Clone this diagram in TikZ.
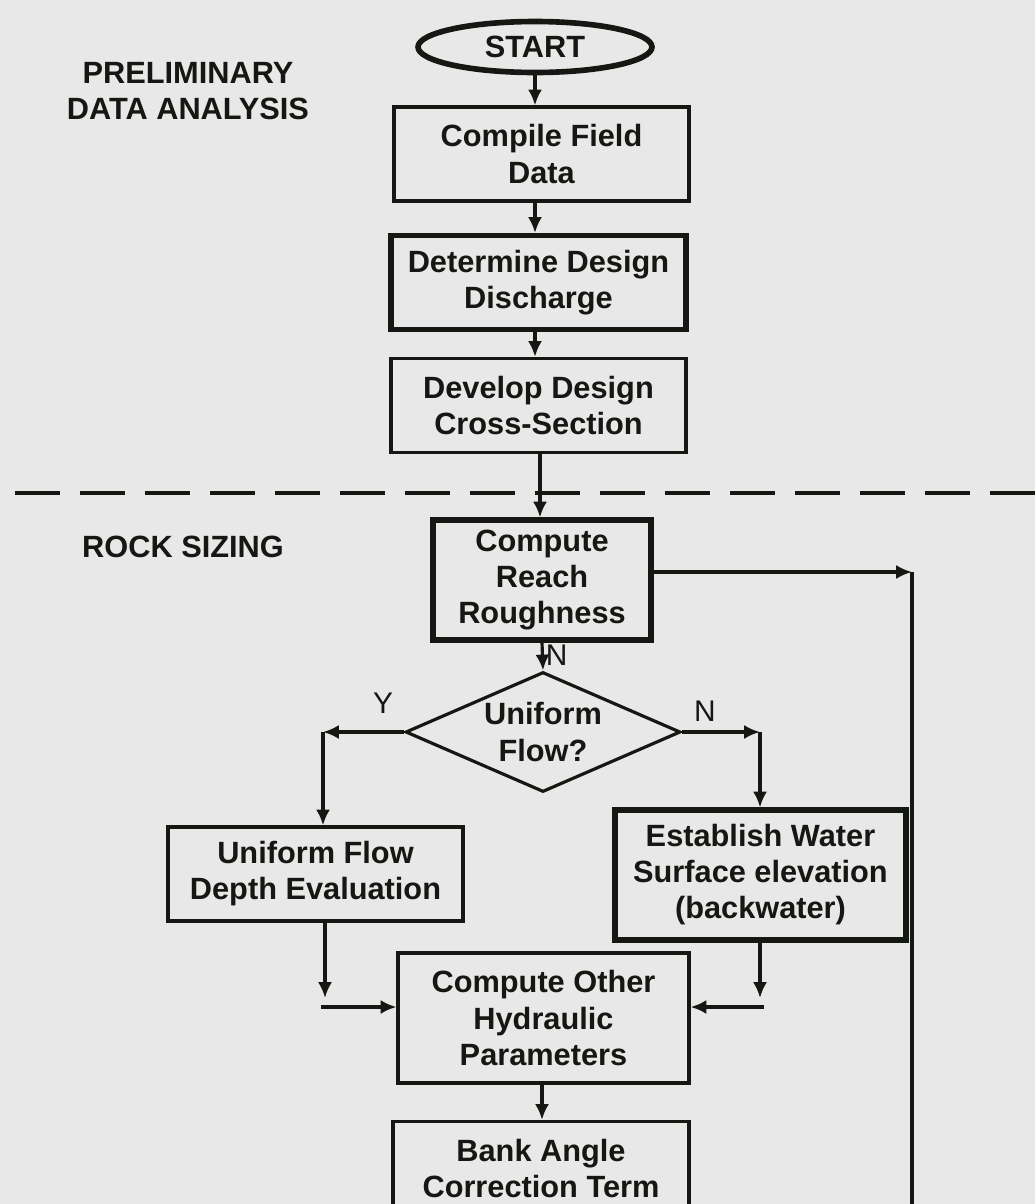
\documentclass[tikz,border=0pt]{standalone}
\usepackage{fontspec}
\setmainfont{Liberation Sans}
\usepackage{xcolor}
\usepackage{tikz}
\usetikzlibrary{arrows.meta,positioning,shapes.geometric,calc}

\definecolor{paper}{rgb}{0.91,0.91,0.91}
\definecolor{ink}{rgb}{0.08,0.09,0.07}

\begin{document}
\begin{tikzpicture}[
  x=0.02cm, y=-0.02cm,
  box/.style={rectangle, draw=ink, line width=1.8pt, minimum width=5.9cm, minimum height=1.88cm, inner sep=2pt, font=\fontsize{17.5}{20.5}\selectfont\bfseries, text=ink, align=center},
  heavy/.style={line width=2.9pt},
  arrow/.style={-{Latex[length=9pt,width=8pt]}, line width=1.8pt, draw=ink},
  tag/.style={font=\fontsize{17.5}{20.5}\selectfont\bfseries, text=ink, align=center},
  yn/.style={font=\fontsize{17}{20}\selectfont, text=ink, inner sep=1pt}
]

% Frame and paper
\useasboundingbox (0,0) rectangle (1035,1204);
\clip (0,0) rectangle (1035,1204);
\fill[paper] (0,0) rectangle (1035,1204);

% Section titles
\node[tag] (prelim) at (188,91) {PRELIMINARY\\DATA ANALYSIS};
\node[tag] (rocks) at (183,547) {ROCK SIZING};

% Section divider
\coordinate (divl) at (15,493);
\coordinate (divr) at (1040,493);
\draw[ink, line width=2.3pt, dash pattern=on 0.9cm off 0.4cm] (divl) -- (divr);

% Preliminary data analysis
\node[ellipse, draw=ink, line width=3.2pt, minimum width=4.68cm, minimum height=1.02cm, inner sep=0pt, tag] (start) at (535,47) {START};
\node[box] (compile) at (541.5,154) {Compile Field\\Data};
\node[box, heavy] (design) at (538.5,282.5) {Determine Design\\Discharge};
\node[box] (section) at (538.5,405.5) {Develop Design\\Cross-Section};

% Rock sizing
\node[box, heavy, minimum width=4.36cm, minimum height=2.4cm] (reach) at (542,580) {Compute\\Reach\\Roughness};
\node[diamond, draw=ink, line width=1.8pt, aspect=2.3, inner sep=0pt, minimum width=5.5cm, minimum height=2.4cm, tag] (uniq) at (543,732) {Uniform\\Flow?};
\node[box] (depth) at (315.5,874) {Uniform Flow\\Depth Evaluation};
\node[box, heavy, minimum width=5.82cm, minimum height=2.6cm] (water) at (760.5,875) {Establish Water\\Surface elevation\\(backwater)};
\node[box, minimum width=5.82cm, minimum height=2.6cm] (hydro) at (543.5,1018) {Compute Other\\Hydraulic\\Parameters};
\node[box, minimum width=5.92cm] (bank) at (541,1168.5) {Bank Angle\\Correction Term};

% Corner points
\coordinate (yes) at (323,732);
\coordinate (no) at (760,732);
\coordinate (joinl) at (325,1007);
\coordinate (joinr) at (760,1007);
\coordinate (loop) at (912,572);
\coordinate (loopend) at (912,1240);

% Arrows
\draw[arrow] (start.south) -- (start.south |- compile.north);
\draw[arrow] (start.south |- compile.south) -- (start.south |- design.north);
\draw[arrow] (start.south |- design.south) -- (start.south |- section.north);
\draw[arrow] (540,0 |- section.south) -- (540,0 |- reach.north);
\draw[arrow] (reach.south) -- node[yn, right, pos=0.45] (nlab) {N} (uniq.north);
\draw[arrow] (uniq.west) -- (yes);
\node[yn, above] (ylab) at (383,716) {Y};
\draw[arrow] (yes) -- (yes |- depth.north);
\draw[arrow] (uniq.east) -- (no);
\node[yn, above] (nlab2) at (705,724) {N};
\draw[arrow] (no) -- (no |- water.north);
\draw[arrow] (joinl |- depth.south) -- (325,998);
\draw[arrow] (321,1007) -- (hydro.west |- joinl);
\draw[arrow] (water.south -| joinr) -- (760,998);
\draw[arrow] (764,1007) -- (hydro.east |- joinr);
\draw[arrow] (542,0 |- hydro.south) -- (542,0 |- bank.north);
\draw[arrow] (reach.east |- loop) -- (loop);
\draw[ink, line width=2.3pt] (loop) -- (loopend);

\end{tikzpicture}
\end{document}
